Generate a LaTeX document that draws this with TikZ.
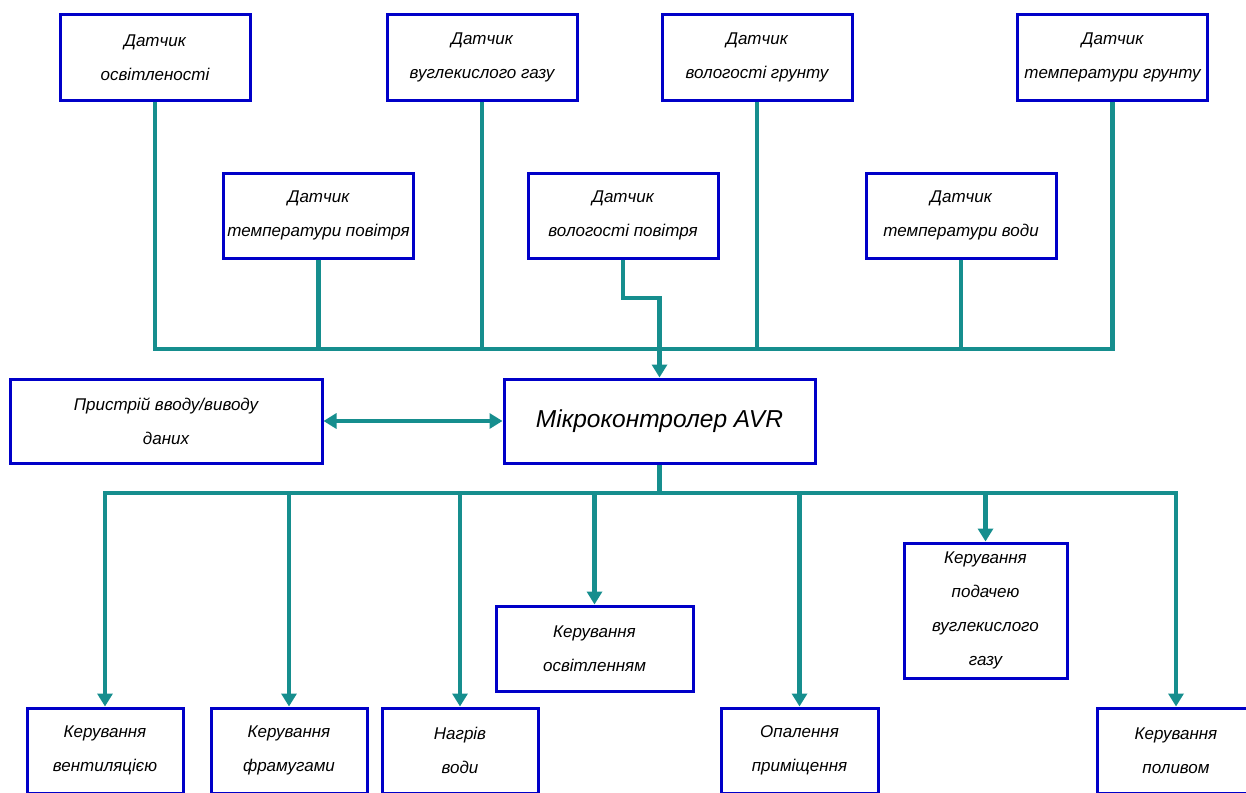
\documentclass[tikz,border=0pt]{standalone}
\usepackage{fontspec}
\setmainfont{Liberation Sans}
\usetikzlibrary{arrows.meta}
\definecolor{wirec}{RGB}{22,142,142}
\definecolor{boxc}{RGB}{0,0,200}
\tikzset{
  blk/.style={draw=boxc, line width=3pt, fill=white, inner sep=0pt, align=center,
    font=\fontsize{17}{34}\selectfont\itshape},
  wire/.style={draw=wirec, line width=4.5pt},
  tip/.tip={Triangle[length=13pt,width=15pt]},
  arr/.style={wire, -tip},
}
\begin{document}
\begin{tikzpicture}[x=1pt,y=-1pt]
\useasboundingbox (0,0) rectangle (1246,792);
% sensors
\node[blk, minimum width=190pt, minimum height=85pt] (s1) at (155,57.5) {Датчик\\освітленості};
\node[blk, minimum width=190pt, minimum height=85pt] (s2) at (482,57.5) {Датчик\\вуглекислого газу};
\node[blk, minimum width=190pt, minimum height=85pt] (s3) at (757,57.5) {Датчик\\вологості грунту};
\node[blk, minimum width=190pt, minimum height=85pt] (s4) at (1112.5,57.5) {Датчик\\температури грунту};
\node[blk, minimum width=190pt, minimum height=85pt] (s5) at (318.5,215.5) {Датчик\\температури повітря};
\node[blk, minimum width=190pt, minimum height=85pt] (s6) at (623,215.5) {Датчик\\вологості повітря};
\node[blk, minimum width=190pt, minimum height=85pt] (s7) at (961,215.5) {Датчик\\температури води};
% centre
\node[blk, minimum width=311pt, minimum height=84pt, font=\fontsize{24.5}{30}\selectfont\itshape] (mcu) at (659.5,421) {Мікроконтролер AVR};
\node[blk, minimum width=312pt, minimum height=84pt] (io) at (166,421) {Пристрій вводу/виводу\\даних};
% outputs
\node[blk, minimum width=156pt, minimum height=85pt] (b1) at (105,750.5) {Керування\\вентиляцією};
\node[blk, minimum width=156pt, minimum height=85pt] (b2) at (289,750.5) {Керування\\фрамугами};
\node[blk, minimum width=156pt, minimum height=85pt] (b3) at (460,750.5) {Нагрів\\води};
\node[blk, minimum width=197pt, minimum height=85pt] (b4) at (594.5,648.5) {Керування\\освітленням};
\node[blk, minimum width=157pt, minimum height=85pt] (b5) at (799.5,750.5) {Опалення\\приміщення};
\node[blk, minimum width=163pt, minimum height=135pt] (b6) at (985.5,610.5) {Керування\\подачею\\вуглекислого\\газу};
\node[blk, minimum width=158pt, minimum height=85pt] (b7) at (1176,750.5) {Керування\\поливом};
% buses
\coordinate (ybus) at (0,349);
\coordinate (ykink) at (0,298);
\coordinate (ybot) at (0,493);
\draw[wire, line cap=rect] (s1.south |- ybus) -- (s4.south |- ybus);
\foreach \s in {s1,s2,s3,s4,s5,s7}{
  \draw[wire] (\s.south) -- (\s.south |- ybus);
}
\draw[arr, line join=miter] (s6.south) -- (s6.south |- ykink) -| (mcu.north);
\draw[wire, {tip}-{tip}] (io.east) -- (mcu.west);
\draw[wire] (mcu.south) -- (mcu.south |- ybot);
\draw[wire, line cap=rect] (b1.north |- ybot) -- (b7.north |- ybot);
\foreach \b in {b1,b2,b3,b4,b5,b6,b7}{
  \draw[arr] (\b.north |- ybot) -- (\b.north);
}
\end{tikzpicture}
\end{document}
